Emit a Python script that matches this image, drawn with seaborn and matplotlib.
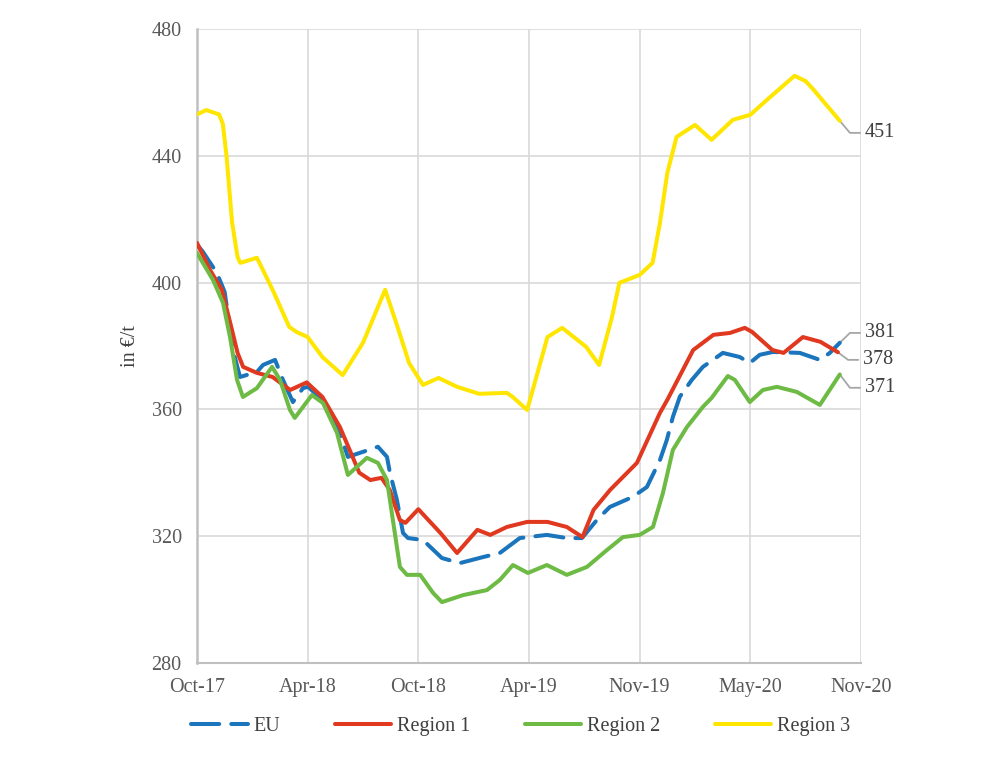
import matplotlib
matplotlib.use("Agg")
import matplotlib.pyplot as plt
import seaborn as sns
import pandas as pd

# ---------------- data (months since Oct-17, value in EUR/t) ----------------
tick_labels = ["Oct-17", "Apr-18", "Oct-18", "Apr-19", "Nov-19", "May-20", "Nov-20"]
tick_months = [0, 6, 12, 18, 24, 30, 36]

eu_m = [0, 0.33, 1.08, 1.5, 1.95, 2.33, 3.25, 3.58, 4.23, 4.66, 5.2, 5.75, 6.02, 6.8,
        7.75, 8.18, 9.0, 9.81, 10.3, 10.46, 10.84, 11.17, 11.44, 12.25, 13.28, 14.25,
        15.5, 16.42, 17.5, 18.97, 20.05, 20.87, 21.68, 22.38, 23.63, 24.39, 25.1,
        25.47, 25.8, 26.18, 26.83, 27.43, 28.51, 29.43, 29.97, 30.51, 31.22, 32.68,
        33.77, 34.31, 34.85]
eu_v = [412, 409.6, 403, 397, 378.7, 370.2, 371.8, 374, 375.6, 369.3, 362.3, 366.7,
        367.1, 363, 352.6, 345, 346.6, 348.2, 345, 340, 331.4, 321, 319.4, 318.8,
        313.1, 311.5, 313.4, 314.7, 319.4, 320.4, 319.4, 319.4, 325.1, 329.2, 332.4,
        335.5, 344, 350.3, 357.6, 364, 369.3, 373.4, 377.8, 376.5, 374.6, 377.2,
        378.1, 377.8, 375.6, 377.8, 381]

r1_m = [0, 0.7, 1.35, 1.8, 2.2, 2.5, 3.25, 4.1, 5.05, 5.95, 6.8, 7.75, 8.8, 9.4, 10.0,
        10.45, 11.0, 11.3, 12.0, 13.2, 14.1, 15.2, 15.9, 16.8, 17.9, 19.0, 20.05, 20.9,
        21.5, 22.4, 23.85, 25.1, 25.5, 26.9, 28.0, 28.9, 29.7, 30.1, 31.2, 31.8, 32.85,
        33.8, 34.75]
r1_v = [412.5, 404, 397.7, 387.3, 377.8, 373.4, 371.5, 370.2, 366.1, 368.5, 363.9,
        354.4, 340, 337.7, 338.4, 334.6, 325.1, 324.2, 328.5, 321, 314.7, 322, 320.4,
        322.9, 324.5, 324.5, 322.9, 319.7, 328.3, 334.6, 343.1, 358.9, 363, 378.7,
        383.5, 384.1, 385.7, 384.4, 378.7, 377.8, 382.8, 381.3, 378]

r2_m = [0, 0.87, 1.41, 1.79, 2.17, 2.49, 3.25, 4.07, 4.5, 5.04, 5.3, 6.23, 6.83, 7.59,
        8.18, 9.21, 9.81, 10.3, 10.62, 11.0, 11.38, 12.1, 12.8, 13.28, 14.42, 15.72,
        16.42, 17.13, 17.94, 18.97, 20.05, 21.14, 22.22, 23.09, 24.0, 24.72, 25.26,
        25.8, 26.56, 27.43, 27.9, 28.78, 29.16, 29.97, 30.68, 31.44, 32.52, 33.77,
        34.85]
r2_v = [409.3, 400.8, 393.6, 382.8, 369.3, 363.9, 366.7, 373.4, 369.3, 359.8, 357.3,
        364.5, 362, 352.6, 339.3, 344.7, 343.1, 337.7, 325.1, 310.3, 307.8, 307.8,
        302.1, 299.2, 301.4, 303, 306.2, 310.9, 308.4, 310.9, 307.8, 310.3, 315.6,
        319.7, 320.4, 322.9, 333.6, 347.2, 354.4, 360.8, 363.6, 370.5, 369.3, 362.3,
        366.1, 367.1, 365.5, 361.4, 371]

r3_m = [0, 0.5, 1.2, 1.4, 1.6, 1.9, 2.2, 2.35, 3.25, 4.1, 5.0, 5.4, 6.0, 6.8, 7.9, 9.0,
        10.2, 10.8, 11.5, 12.25, 13.1, 14.1, 15.3, 16.8, 17.1, 17.9, 19.0, 19.8, 21.1,
        21.8, 22.5, 22.9, 24.0, 24.7, 25.1, 25.5, 26.0, 27.0, 27.9, 29.05, 30.0, 30.9,
        32.4, 33.0, 33.4, 34.85]
r3_v = [453, 454.4, 453, 450, 440, 419, 408, 406.2, 407.8, 397.7, 386, 384.4, 382.8,
        376.5, 370.8, 381, 397.7, 387.3, 374.6, 367.7, 369.9, 367.1, 364.9, 365.2, 364,
        359.8, 382.8, 385.7, 379.7, 374, 389.1, 399.9, 402.4, 406.2, 418.8, 434.6,
        445.9, 449.7, 445, 451.3, 452.9, 457.6, 465.2, 463.5, 461, 451]

series_names = ["EU", "Region 1", "Region 2", "Region 3"]
end_labels = ["381", "378", "371", "451"]

# ---------------- styling ----------------
sns.set_theme(style="whitegrid")
plt.rcParams["font.family"] = ["Liberation Serif", "DejaVu Serif"]

colors = ["#1B75BC", "#E0391F", "#6DBB45", "#FFE600"]
label_offsets = [3.1, -2.4, -4.2, -3.8]   # vertical shift of end labels (layout)
FS = 14.5

fig = plt.figure(figsize=(10, 7.8), dpi=100)
ax = fig.add_axes([0.197, 0.15, 0.664, 0.813])

data = [(eu_m, eu_v), (r1_m, r1_v), (r2_m, r2_v), (r3_m, r3_v)]
for i, ((m, v), name) in enumerate(zip(data, series_names)):
    df = pd.DataFrame({"month": m, "value": v})
    ls = (0, (7, 3)) if name == "EU" else "-"
    sns.lineplot(data=df, x="month", y="value", ax=ax, color=colors[i],
                 linewidth=2.9, linestyle=ls, sort=False, estimator=None,
                 label=name, zorder=3 + i)
    line = ax.lines[-1]
    line.set_solid_capstyle("round")
    line.set_dash_capstyle("round")
    line.set_solid_joinstyle("round")

# end-point labels with leader lines
for i, (m, v) in enumerate(data):
    x0, y0 = m[-1], v[-1]
    ly = y0 + label_offsets[i]
    ax.plot([x0, x0 + 0.55, x0 + 1.1], [y0, ly, ly], color="#A6A6A6", lw=1.3,
            clip_on=False, zorder=2)
    ax.text(x0 + 1.35, ly, end_labels[i], va="center", ha="left", fontsize=FS,
            color="#404040", clip_on=False)

ax.set_xlim(0, 36)
ax.set_ylim(280, 480)
ax.set_yticks(range(280, 481, 40))
ax.set_xticks(tick_months)
ax.set_xticklabels(tick_labels)
ax.set_xlabel("")
ax.set_ylabel("in €/t", fontsize=FS, color="#404040", labelpad=8)

ax.grid(True, color="#D9D9D9", linewidth=1.2)
ax.tick_params(axis="both", labelsize=FS, labelcolor="#595959", length=6,
               width=1.2, color="#BFBFBF", direction="out", pad=5)
for s in ["top", "right"]:
    ax.spines[s].set_visible(False)
ax.spines["left"].set_color("#BFBFBF")
ax.spines["left"].set_linewidth(1.8)
ax.spines["bottom"].set_color("#BFBFBF")
ax.spines["bottom"].set_linewidth(1.5)

ax.legend(loc="center", bbox_to_anchor=(0.521, 0.069), bbox_transform=fig.transFigure,
          ncol=4, frameon=False, fontsize=FS, handlelength=2.8, handletextpad=0.3,
          columnspacing=2.7, labelcolor="#404040")

fig.savefig("out.png", dpi=100)
